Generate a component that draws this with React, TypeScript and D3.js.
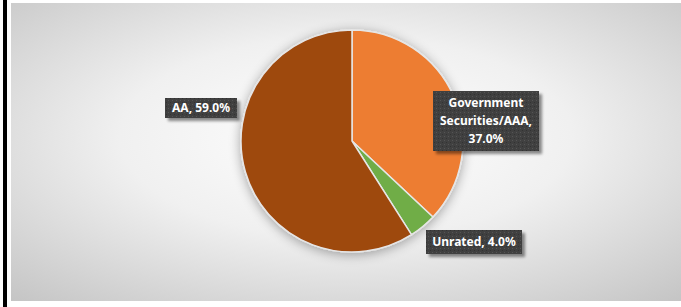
import React from 'react';
import * as d3 from 'd3';

const categories = ['Government Securities/AAA', 'Unrated', 'AA'];
const shares = [37.0, 4.0, 59.0];
const colors = ['#ED7D31', '#70AD47', '#9E480E'];
// label lines as they wrap in the reference
const labelLines = [['Government', 'Securities/AAA,', '37.0%'], ['Unrated, 4.0%'], ['AA, 59.0%']];

const W = 681;
const H = 307;

const App: React.FC = () => {
  const cx = 352;
  const cy = 141;
  const r = 111;

  const pie = d3.pie<number>().sort(null).value((d) => d);
  const arcs = pie(shares);
  const arc = d3.arc<d3.PieArcDatum<number>>().innerRadius(0).outerRadius(r);

  // box anchors (centre of each label box)
  const boxes = [
    { x: 486, y: 121, w: 106, h: 60 },
    { x: 474, y: 242, w: 96, h: 24 },
    { x: 201, y: 108, w: 72, h: 20 },
  ];

  return (
    <svg width={W} height={H} style={{ position: 'absolute', left: 0, top: 0 }}>
      <defs>
        <radialGradient id="bg" cx="0.5" cy="0.45" r="0.75">
          <stop offset="0" stopColor="#ffffff" />
          <stop offset="0.45" stopColor="#f0f0f0" />
          <stop offset="1" stopColor="#c4c4c4" />
        </radialGradient>
        <filter id="pieShadow" x="-30%" y="-30%" width="160%" height="160%">
          <feGaussianBlur in="SourceAlpha" stdDeviation="6" />
          <feOffset dx="0" dy="2" result="b" />
          <feComponentTransfer>
            <feFuncA type="linear" slope="0.35" />
          </feComponentTransfer>
          <feMerge>
            <feMergeNode />
            <feMergeNode in="SourceGraphic" />
          </feMerge>
        </filter>
        <filter id="boxShadow" x="-20%" y="-30%" width="150%" height="170%">
          <feGaussianBlur in="SourceAlpha" stdDeviation="1.5" />
          <feOffset dx="3" dy="3" />
          <feComponentTransfer>
            <feFuncA type="linear" slope="0.45" />
          </feComponentTransfer>
          <feMerge>
            <feMergeNode />
            <feMergeNode in="SourceGraphic" />
          </feMerge>
        </filter>
        <pattern id="dots" width="4" height="4" patternUnits="userSpaceOnUse">
          <rect width="4" height="4" fill="#3f3f3f" />
          <rect x="0" y="0" width="1" height="1" fill="#555555" />
          <rect x="2" y="2" width="1" height="1" fill="#333333" />
        </pattern>
      </defs>

      <rect x={0} y={0} width={W} height={H} fill="#ffffff" />
      <rect x={3} y={0} width={4} height={H} fill="#000000" />
      <rect x={11} y={3} width={W - 11} height={298} fill="url(#bg)" />

      <g transform={`translate(${cx},${cy})`} filter="url(#pieShadow)">
        {arcs.map((a, i) => (
          <path key={categories[i]} d={arc(a) || ''} fill={colors[i]} stroke="#e6e6e6" strokeWidth={1.5} />
        ))}
      </g>

      {boxes.map((b, i) => (
        <g key={categories[i]}>
          <rect
            x={b.x - b.w / 2}
            y={b.y - b.h / 2}
            width={b.w}
            height={b.h}
            fill="url(#dots)"
            filter="url(#boxShadow)"
          />
          {labelLines[i].map((t, j) => (
            <text
              key={t}
              x={b.x}
              y={b.y + (j - (labelLines[i].length - 1) / 2) * 18}
              dy="0.35em"
              textAnchor="middle"
              fill="#ffffff"
              fontFamily="'Noto Sans', sans-serif"
              fontWeight="bold"
              fontSize={12}
            >
              {t}
            </text>
          ))}
        </g>
      ))}
    </svg>
  );
};

export default App;
